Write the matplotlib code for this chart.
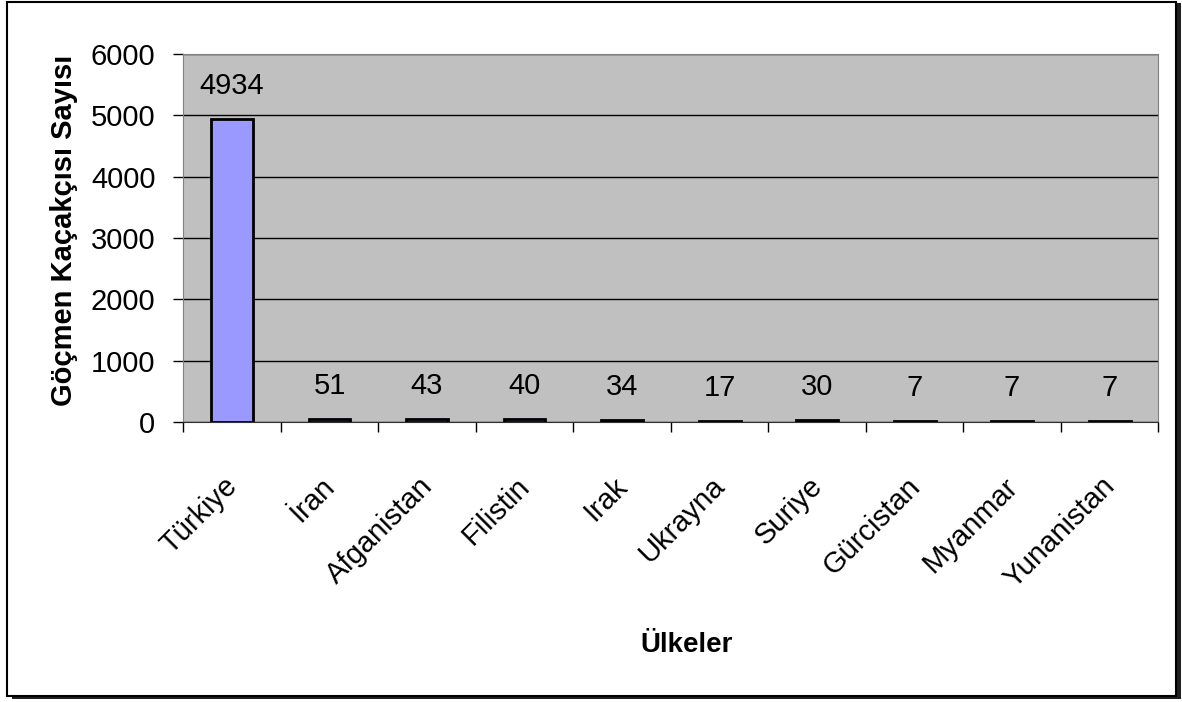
import matplotlib.pyplot as plt
from matplotlib.patches import Rectangle
import numpy as np

countries = ["Türkiye", "İran", "Afganistan", "Filistin", "Irak", "Ukrayna",
             "Suriye", "Gürcistan", "Myanmar", "Yunanistan"]
values = [4934, 51, 43, 40, 34, 17, 30, 7, 7, 7]
yticks = [0, 1000, 2000, 3000, 4000, 5000, 6000]

plt.rcParams['font.family'] = ['Liberation Sans', 'DejaVu Sans']

fig = plt.figure(figsize=(11.82, 7.02), dpi=100)
ax = fig.add_axes([0.155, 0.399, 0.825, 0.524])

# outer border with shadow
fig.patches.append(Rectangle((0.010, 0.004), 0.989, 0.992, transform=fig.transFigure,
                             facecolor='#202020', edgecolor='none', zorder=-2))
fig.patches.append(Rectangle((0.006, 0.009), 0.989, 0.988, transform=fig.transFigure,
                             facecolor='white', edgecolor='black', lw=1.5, zorder=-1))

ax.set_facecolor('#C0C0C0')
x = np.arange(len(countries))
ax.bar(x, values, width=0.43, color='#9999FF', edgecolor='black', linewidth=2, zorder=3)
for xi, v in zip(x, values):
    ax.annotate(str(v), (xi, v), xytext=(0, 18), textcoords='offset points',
                ha='center', va='baseline', fontsize=21)

ax.set_xlim(-0.5, len(countries) - 0.5)
ax.set_ylim(0, 6000)
ax.set_yticks(yticks)
ax.yaxis.grid(True, color='black', lw=1, zorder=1)
ax.tick_params(axis='y', labelsize=21, length=7, width=1, direction='out', pad=13)

# labels sit slightly left of the category centre
ax.set_xticks(x - 0.09)
ax.set_xticklabels(countries, rotation=45, ha='right', va='top',
                   rotation_mode='anchor', fontsize=21)
ax.set_xticks(np.arange(-0.5, len(countries)), minor=True)
ax.tick_params(axis='x', which='major', length=0, pad=36)
ax.tick_params(axis='x', which='minor', length=7, width=1, direction='out')

for s in ['top', 'right', 'left']:
    ax.spines[s].set_color('#808080')
ax.spines['bottom'].set_color('#303030')

ax.set_ylabel("Göçmen Kaçakçısı Sayısı", fontsize=21, fontweight='bold')
ax.yaxis.set_label_coords(-0.108, 0.522)
fig.text(0.581, 0.081, "Ülkeler", ha='center', va='center', fontsize=20, fontweight='bold')

fig.savefig("out.png", dpi=100)
